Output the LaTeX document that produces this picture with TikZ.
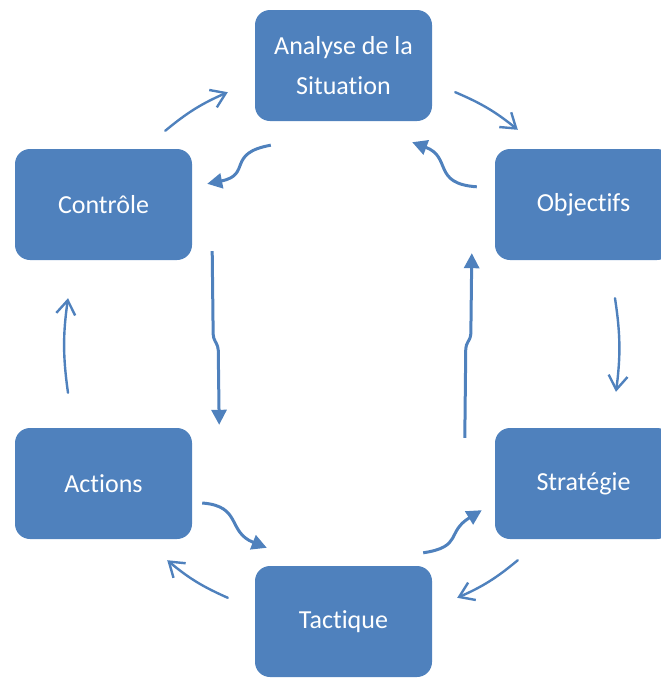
\documentclass[tikz,border=0pt]{standalone}
\usepackage{fontspec}
\setmainfont{Carlito}[Ligatures=NoCommon]
\usetikzlibrary{arrows.meta,calc}

\definecolor{cycleblue}{HTML}{4F81BD}

\begin{document}
\begin{tikzpicture}[x=1pt,y=-1pt,
    stage/.style={fill=cycleblue, rounded corners=15pt, minimum width=177pt,
        minimum height=111pt, inner sep=0pt, align=center, text=white,
        font=\fontsize{26}{40}\selectfont},
    outarrow/.style={draw=cycleblue, line width=2.4pt, line cap=round,
        -{Straight Barb[length=14pt,width=19pt,line width=2.4pt]}},
    inarrow/.style={draw=cycleblue, line width=3pt, rounded corners=4pt,
        -{Triangle[length=15pt,width=15pt]}}]
\useasboundingbox (0,0) rectangle (661,678);

% stages
\node [stage] (ana)  at (343.5,65.5)  {Analyse de la\\Situation};
\node [stage] (ctrl) at (103.5,204.5) {Contrôle};
\node [stage] (obj)  at (583.5,204.5) {Objectifs};
\node [stage] (act)  at (103.5,483.5) {Actions};
\node [stage] (strat) at (583.5,483.5) {Stratégie};
\node [stage] (tac)  at (343.5,621.5) {Tactique};

% outer cycle
\draw [outarrow] ($(ctrl.north east)+(-27,-18)$) to [bend left=8] ($(ana.south west)+(-27,-29)$);
\draw [outarrow] ($(ana.south east)+(23,-29)$) to [bend left=8] ($(obj.north west)+(23,-19)$);
\draw [outarrow] ($(obj.south)+(31.5,38)$) to [bend left=8] ($(strat.north)+(32.5,-36)$);
\draw [outarrow] ($(strat.south west)+(23,21)$) to [bend left=8] ($(tac.north east)+(25,32)$);
\draw [outarrow] ($(tac.north west)+(-27,32)$) to [bend left=8] ($(act.south east)+(-25,21)$);
\draw [outarrow] ($(act.north)+(-35.5,-35)$) to [bend left=8] ($(ctrl.south)+(-35.5,38)$);

% inner cycle
\draw [inarrow] ($(ana.south west)+(16,24)$)
    .. controls +(-45,8) and +(45,-9) .. ($(ctrl.north east)+(15,35)$);
\draw [inarrow] ($(ctrl.south east)+(20,-9)$) -- ++(1,87) -- ++(5,8)
    -- ($(act.north east)+(27,-3)$);
\draw [inarrow] ($(act.east)+(10,19.5)$)
    .. controls +(40,3) and +(-40,-16) .. ($(tac.north west)+(12,-18)$);
\draw [inarrow] ($(tac.north east)+(-9,-13)$)
    .. controls +(40,-6) and +(-36,22) .. ($(strat.south west)+(-13,-29)$);
\draw [inarrow] ($(strat.north west)+(-30,10)$) -- ++(1,-93) -- ++(5,-7)
    -- ($(obj.south west)+(-23,-7)$);
\draw [inarrow] ($(obj.north west)+(-18,38)$)
    .. controls +(-45,-3) and +(40,15) .. ($(ana.south east)+(-20,21)$);

\end{tikzpicture}
\end{document}
